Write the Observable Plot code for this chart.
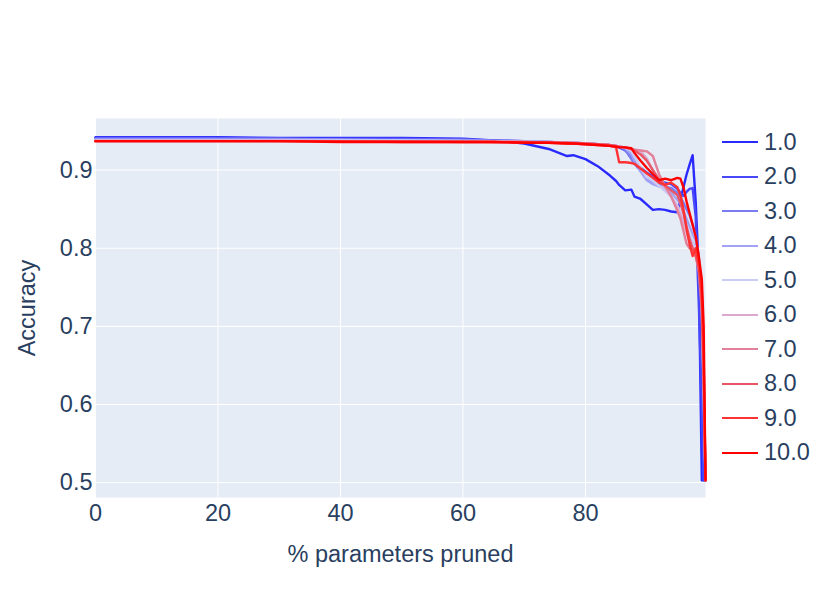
<!DOCTYPE html>
<html>
<head>
<meta charset="utf-8">
<script src="https://cdn.jsdelivr.net/npm/d3@7"></script>
<script src="https://cdn.jsdelivr.net/npm/@observablehq/plot@0.6"></script>
<style>
  html, body { margin: 0; padding: 0; background: #fff; }
  #wrap { position: relative; width: 831px; height: 593px; font-family: "Liberation Sans", Arial, sans-serif; }
  #legend { position: absolute; left: 722px; top: 125px; color: #2a3f5f; font-size: 23.5px; }
  .item { display: flex; align-items: center; height: 34.5px; }
  .sw { width: 36px; height: 2.4px; margin-right: 6px; }
</style>
</head>
<body>
<div id="wrap"><div id="chart"></div><div id="legend"></div></div>
<script>
// % parameters pruned (shared grid)
const pruned = [0, 10, 20, 30, 40, 50, 60, 65, 70, 74, 77, 78, 80, 82, 84, 85, 85.5, 86.5, 87.5, 88, 89, 90, 91, 92, 93, 94, 95, 95.5, 96, 96.5, 97, 97.5, 98, 98.5, 99, 99.3, 99.6];

const seriesNames = ["1.0", "2.0", "3.0", "4.0", "5.0", "6.0", "7.0", "8.0", "9.0", "10.0"];
const seriesColors = ["#2a2aff", "#4848fa", "#7c7cf2", "#a3a3f5", "#cbcbf7", "#dba9cf", "#e3809a", "#ea5566", "#ff3333", "#ff0000"];

const acc1  = [.942,.942,.942,.941,.941,.941,.940,.938,.934,.927,.918,.919,.914,.905,.893,.886,.881,.874,.875,.866,.863,.856,.849,.850,.849,.847,.846,.862,.878,.894,.907,.919,.860,.770,.503,.503,.503];
const acc2  = [.941,.941,.941,.940,.940,.940,.939,.938,.937,.936,.935,.935,.934,.933,.931,.930,.929,.925,.918,.912,.903,.897,.892,.887,.884,.882,.876,.871,.867,.872,.876,.877,.840,.730,.600,.503,.503];
const acc3  = [.940,.940,.940,.940,.939,.939,.939,.938,.937,.936,.935,.935,.934,.933,.932,.931,.930,.926,.914,.908,.899,.889,.884,.881,.879,.877,.871,.866,.858,.850,.842,.830,.815,.790,.720,.600,.503];
const acc4  = [.939,.939,.939,.939,.939,.938,.938,.937,.937,.936,.935,.935,.934,.933,.932,.931,.930,.928,.920,.912,.898,.887,.882,.879,.876,.871,.862,.857,.848,.838,.828,.818,.810,.790,.740,.620,.503];
const acc5  = [.938,.938,.938,.938,.938,.938,.937,.937,.936,.936,.935,.935,.934,.933,.932,.931,.930,.929,.924,.918,.903,.891,.886,.880,.873,.866,.855,.847,.838,.828,.818,.809,.800,.785,.750,.650,.503];
const acc6  = [.938,.938,.938,.938,.937,.937,.937,.937,.936,.936,.935,.935,.934,.933,.932,.931,.930,.929,.927,.926,.924,.915,.900,.888,.877,.866,.852,.843,.832,.820,.808,.800,.795,.780,.740,.650,.503];
const acc7  = [.937,.937,.937,.937,.937,.937,.937,.936,.936,.935,.935,.935,.934,.933,.932,.931,.930,.929,.927,.926,.925,.924,.918,.895,.880,.866,.848,.838,.822,.806,.800,.800,.790,.770,.720,.620,.503];
const acc8  = [.937,.937,.937,.937,.937,.937,.936,.936,.936,.935,.935,.934,.934,.933,.932,.931,.930,.929,.927,.925,.920,.912,.900,.888,.880,.874,.868,.858,.845,.828,.812,.800,.790,.775,.730,.640,.503];
const acc9  = [.937,.937,.937,.937,.937,.936,.936,.936,.935,.935,.934,.934,.933,.932,.931,.929,.910,.910,.909,.908,.902,.896,.890,.884,.881,.884,.878,.868,.850,.825,.805,.790,.800,.780,.740,.660,.503];
const acc10 = [.937,.937,.937,.937,.936,.936,.936,.936,.935,.935,.934,.934,.933,.932,.931,.930,.929,.929,.928,.922,.912,.903,.895,.887,.889,.887,.890,.889,.878,.860,.845,.830,.815,.790,.760,.700,.503];

const accs = [acc1, acc2, acc3, acc4, acc5, acc6, acc7, acc8, acc9, acc10];
const rows = accs.flatMap((a, s) => a.map((v, i) => ({x: pruned[i], y: v, series: seriesNames[s]})));

const xTicks = [0, 20, 40, 60, 80];
const yTicks = [0.5, 0.6, 0.7, 0.8, 0.9];

const chart = Plot.plot({
  width: 831,
  height: 593,
  marginLeft: 95,
  marginRight: 126,
  marginTop: 118,
  marginBottom: 96,
  style: {fontSize: "23.5px", fontFamily: '"Liberation Sans", Arial, sans-serif', color: "#2a3f5f", background: "#fff"},
  x: {domain: [0, 99.6]},
  y: {domain: [0.481, 0.966]},
  color: {domain: seriesNames, range: seriesColors},
  marks: [
    Plot.frame({fill: "#E5ECF6", stroke: null}),
    Plot.gridX(xTicks, {stroke: "#fff", strokeOpacity: 1, strokeWidth: 1}),
    Plot.gridY(yTicks, {stroke: "#fff", strokeOpacity: 1, strokeWidth: 1}),
    Plot.axisX(xTicks, {tickSize: 0, tickPadding: 7, label: "% parameters pruned", labelAnchor: "center", labelArrow: "none", labelOffset: 64}),
    Plot.axisY(yTicks, {tickSize: 0, tickPadding: 3, tickFormat: d3.format(".1f"), label: "Accuracy", labelAnchor: "center", labelArrow: "none", labelOffset: 77}),
    Plot.line(rows, {x: "x", y: "y", z: "series", stroke: "series", strokeWidth: 2.4, curve: "linear"})
  ]
});
document.getElementById("chart").appendChild(chart);

const legend = document.getElementById("legend");
seriesNames.forEach((n, i) => {
  const it = document.createElement("div");
  it.className = "item";
  const sw = document.createElement("div");
  sw.className = "sw";
  sw.style.background = seriesColors[i];
  const t = document.createElement("span");
  t.textContent = n;
  it.appendChild(sw); it.appendChild(t);
  legend.appendChild(it);
});
</script>
</body>
</html>
